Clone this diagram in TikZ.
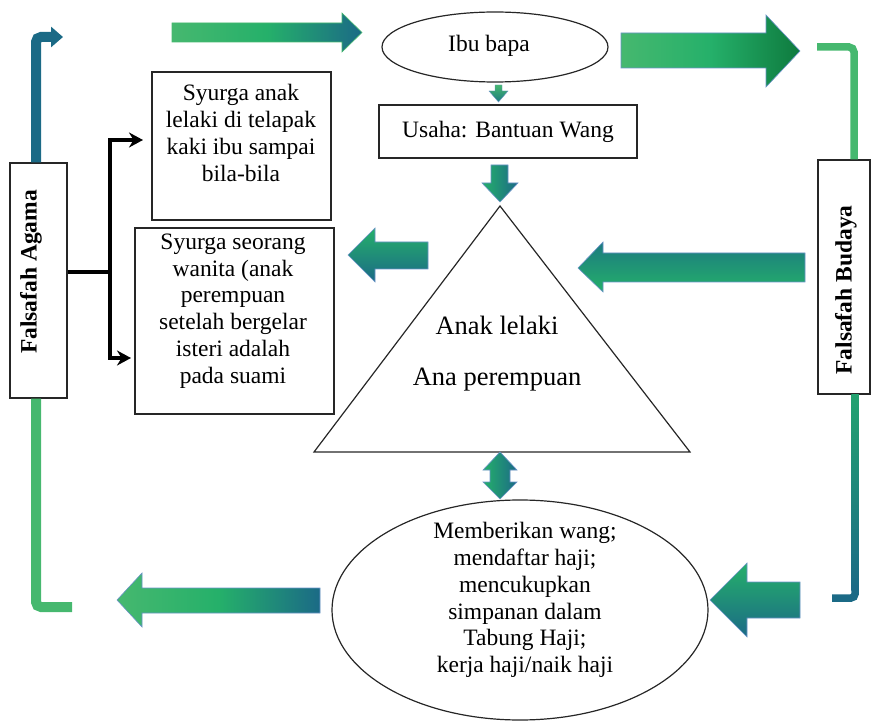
\documentclass[tikz,border=0pt]{standalone}
\usepackage{fontspec}
\setmainfont{Liberation Serif}
\usetikzlibrary{arrows.meta,shapes.geometric}
\definecolor{lgreen}{HTML}{46B86F}
\definecolor{mgreen}{HTML}{25B06A}
\definecolor{tealc}{HTML}{1B6A86}
\definecolor{tealg}{HTML}{1B7A80}
\definecolor{dgreen}{HTML}{0E7A3E}
\definecolor{outl}{HTML}{6A93C8}
\begin{document}
\begin{tikzpicture}[x=1pt,y=-1pt,
  txt/.style={font=\fontsize{23.5}{26.8}\selectfont, inner sep=0pt, align=center},
  btxt/.style={font=\fontsize{23.5}{26.8}\selectfont\bfseries, inner sep=0pt, rotate=90},
  box/.style={draw=black!85, line width=1.3pt, fill=white, inner sep=0pt},
  oval/.style={draw=black!85, line width=1.2pt, ellipse, inner sep=0pt},
  blk/.style={draw=outl, line width=0.6pt},
  conn/.style={draw=black, line width=3.5pt, -{Stealth[length=14pt,width=15pt]}},
  bent/.style={line width=10pt, rounded corners=5pt}]
\useasboundingbox (0,0) rectangle (871,722);

% boxes
\node[box, minimum width=57pt, minimum height=235pt] (agama) at (38.5,280.5) {};
\node[btxt] (agamat) at (31,272) {Falsafah Agama};
\node[box, minimum width=52pt, minimum height=234pt] (budaya) at (844,277) {};
\node[btxt] (budayat) at (846,290) {Falsafah Budaya};

\node[oval, minimum width=226pt, minimum height=70pt] (ibu) at (495,47) {};
\node[txt] (ibut) at (489,46) {Ibu bapa};
\node[box, txt, minimum width=258pt, minimum height=53pt] (usaha) at (508,131.5) {Usaha: Bantuan Wang};

\node[box, minimum width=179pt, minimum height=148pt] (syA) at (241.5,146) {};
\node[txt] (syAt) at (241,133) {Syurga anak\\lelaki di telapak\\kaki ibu sampai\\bila-bila};
\node[box, minimum width=199pt, minimum height=186pt] (syB) at (234.5,321) {};
\node[txt] (syBt) at (233,311) {Syurga seorang\\wanita (anak\\perempuan\\setelah bergelar\\isteri adalah\\pada suami};

% triangle
\coordinate (tA) at (500,206);
\coordinate (tL) at (314,452);
\coordinate (tR) at (690,452);
\draw[line width=1.2pt, black!85] (tA) -- (tL) -- (tR) -- cycle;
\node[txt, font=\fontsize{26.5}{30}\selectfont] (anak1) at (497,325) {Anak lelaki};
\node[txt, font=\fontsize{26.5}{30}\selectfont] (anak2) at (497,380) {Ana perempuan};

% bottom ellipse
\node[oval, minimum width=376pt, minimum height=220pt] (bot) at (520,610) {};
\node[txt] (bott) at (525,600) {Memberikan wang;\\mendaftar haji;\\mencukupkan\\simpanan dalam\\Tabung Haji;\\kerja haji/naik haji};

% black connector
\coordinate (jn) at (110,272);
\coordinate (aTop) at (143,140);
\coordinate (aBot) at (131,358);
\draw[draw=black, line width=3.5pt] (agama.east |- jn) -- (jn);
\draw[conn] (jn) |- (aTop);
\draw[conn] (jn) |- (aBot);

% bent connectors
\draw[bent, tealc, -{Triangle[length=12pt,width=20pt]}] ([xshift=-2.5pt]agama.north) -- (36,37) -- (63,37);
\draw[bent, lgreen] ([xshift=-2.5pt]agama.south) -- (36,607) -- (72,607);
\draw[bent, line width=7.5pt, lgreen] (817,47) -- (854,47) -- ([xshift=10pt]budaya.north);
\shade[top color=mgreen!80!tealc, bottom color=tealc] ([xshift=7.25pt]budaya.south) rectangle (858.75,590);
\draw[line width=7.5pt, tealc, rounded corners=4pt] (855,585) -- (855,598) -- (832,598);

% block arrows
\shadedraw[blk, draw=lgreen, left color=lgreen, right color=tealc, middle color=mgreen]
  (172,23) -- (342,23) -- (342,13) -- (362,32.5) -- (342,52) -- (342,42) -- (172,42) -- cycle;
\shadedraw[blk, left color=lgreen, right color=dgreen, middle color=mgreen]
  (621,33) -- (766,33) -- (766,15) -- (800,51) -- (766,87) -- (766,68) -- (621,68) -- cycle;
\shadedraw[blk, top color=mgreen, bottom color=tealc]
  (428,242) -- (375,242) -- (375,228) -- (348,255) -- (375,282) -- (375,269) -- (428,269) -- cycle;
\shadedraw[blk, top color=tealg, bottom color=mgreen]
  (805,253) -- (603,253) -- (603,242) -- (578,268) -- (603,292) -- (603,282) -- (805,282) -- cycle;
\shadedraw[blk, left color=lgreen, right color=tealc, middle color=mgreen]
  (320,588) -- (142,588) -- (142,573) -- (117,600) -- (142,627) -- (142,613) -- (320,613) -- cycle;
\shadedraw[blk, top color=mgreen, bottom color=tealc]
  (800,582) -- (747,582) -- (747,563) -- (710,600) -- (747,637) -- (747,618) -- (800,618) -- cycle;

% small arrows
\shadedraw[blk, line width=0.4pt, top color=lgreen, bottom color=tealg]
  (495,85) -- (502,85) -- (502,91) -- (508,91) -- (498.5,102) -- (489,91) -- (495,91) -- cycle;
\shadedraw[blk, left color=mgreen, right color=tealc]
  (491,165) -- (508,165) -- (508,183) -- (518,183) -- (500,202) -- (482,183) -- (491,183) -- cycle;
\shadedraw[blk, left color=mgreen, right color=tealc]
  (500,452) -- (517,470) -- (510,470) -- (510,482) -- (517,482) -- (500,499) -- (483,482) -- (490,482) -- (490,470) -- (483,470) -- cycle;
\end{tikzpicture}
\end{document}
